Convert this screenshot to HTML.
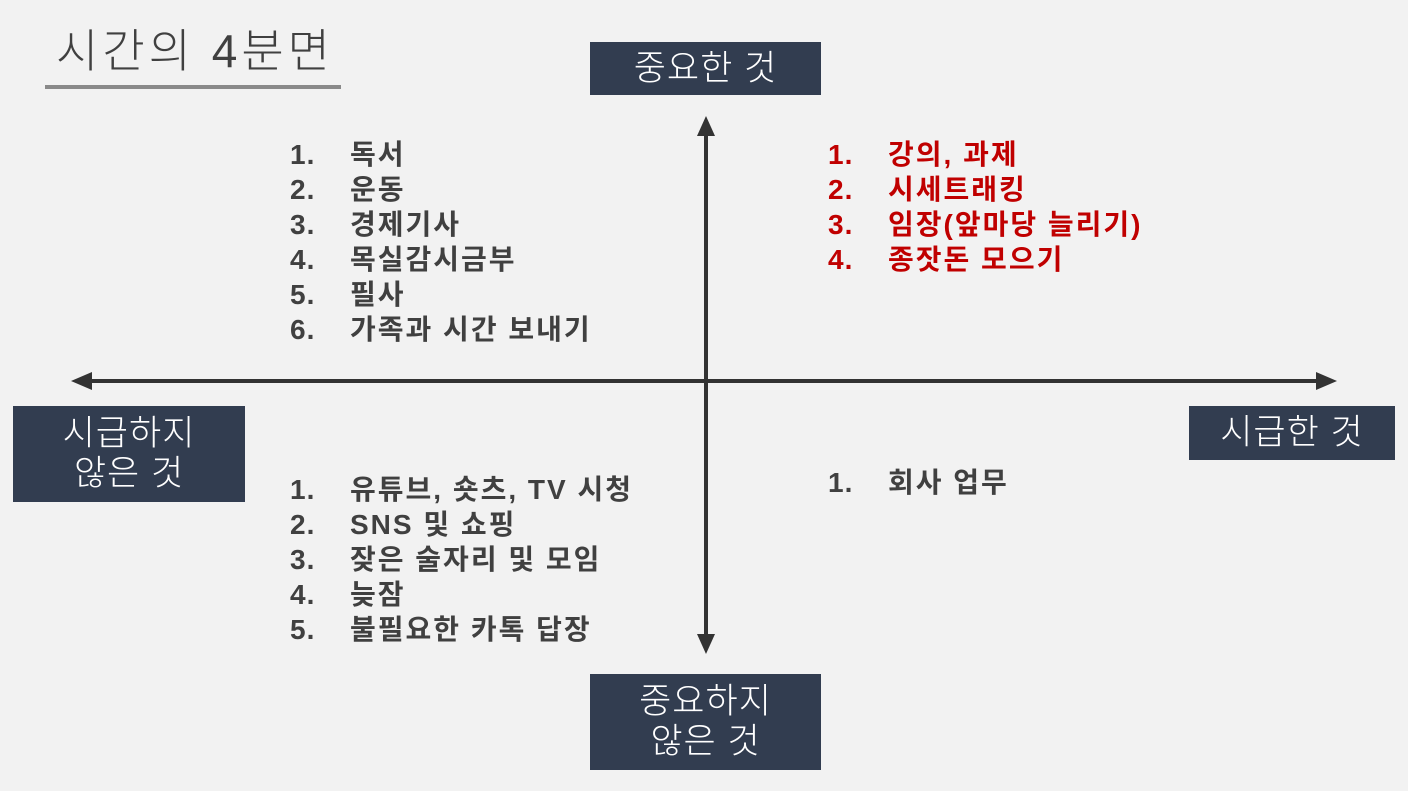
<!DOCTYPE html>
<html><head><meta charset="utf-8"><style>
body{margin:0;width:1408px;height:791px;background:#f2f2f2;position:relative;overflow:hidden;font-family:"Liberation Sans","Noto Sans CJK KR",sans-serif}
.t{position:absolute;left:56px;top:23px;font-size:46px;color:#404040;font-weight:300;letter-spacing:4px;line-height:56px}
.ul{position:absolute;left:45px;top:85px;width:296px;height:4px;background:#8a8a8a}
.box{position:absolute;background:#323d50;color:#fff;font-size:35px;display:flex;align-items:center;justify-content:center;text-align:center;line-height:40px;font-weight:300;letter-spacing:1px}
.list{position:absolute;font-size:28px;font-weight:bold;color:#404040;line-height:35px;letter-spacing:2px}
.list div{position:relative;padding-left:60px;white-space:nowrap}
.list span{position:absolute;left:0;letter-spacing:1px}
.red{color:#c00000}
</style></head><body>
<div class="t">시간의 4분면</div><div class="ul"></div>
<div class="box" style="left:590px;top:42px;width:231px;height:53px">중요한 것</div>
<div class="box" style="left:13px;top:406px;width:232px;height:96px">시급하지<br>않은 것</div>
<div class="box" style="left:1189px;top:406px;width:206px;height:54px">시급한 것</div>
<div class="box" style="left:590px;top:674px;width:231px;height:96px">중요하지<br>않은 것</div>
<svg style="position:absolute;left:0;top:0" width="1408" height="791">
<line x1="706" y1="130" x2="706" y2="640" stroke="#333" stroke-width="4"/>
<polygon points="706,116 697,136 715,136" fill="#333"/>
<polygon points="706,654 697,634 715,634" fill="#333"/>
<line x1="86" y1="381" x2="1322" y2="381" stroke="#333" stroke-width="4"/>
<polygon points="71,381 92,372 92,390" fill="#333"/>
<polygon points="1337,381 1316,372 1316,390" fill="#333"/>
</svg>
<div class="list" style="left:290px;top:137px">
<div><span>1.</span>독서</div><div><span>2.</span>운동</div><div><span>3.</span>경제기사</div><div><span>4.</span>목실감시금부</div><div><span>5.</span>필사</div><div><span>6.</span>가족과 시간 보내기</div></div>
<div class="list red" style="left:828px;top:137px">
<div><span>1.</span>강의, 과제</div><div><span>2.</span>시세트래킹</div><div><span>3.</span>임장(앞마당 늘리기)</div><div><span>4.</span>종잣돈 모으기</div></div>
<div class="list" style="left:290px;top:472px">
<div><span>1.</span>유튜브, 숏츠, TV 시청</div><div><span>2.</span>SNS 및 쇼핑</div><div><span>3.</span>잦은 술자리 및 모임</div><div><span>4.</span>늦잠</div><div><span>5.</span>불필요한 카톡 답장</div></div>
<div class="list" style="left:828px;top:465px">
<div><span>1.</span>회사 업무</div></div>
</body></html>
